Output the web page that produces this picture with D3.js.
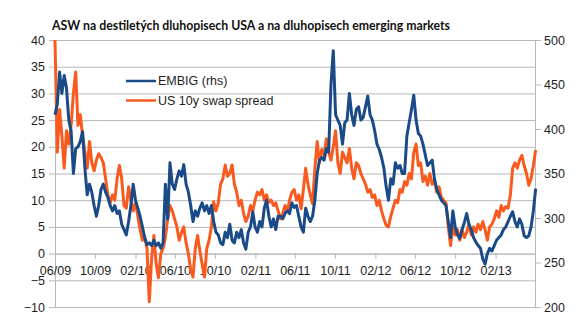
<!DOCTYPE html>
<html>
<head>
<meta charset="utf-8">
<script src="https://cdn.jsdelivr.net/npm/d3@7"></script>
<style>
body{margin:0;background:#fff;}
svg{display:block;font-family:"Liberation Sans",Arial,sans-serif;}
</style>
</head>
<body>
<script>
var title="ASW na destiletých dluhopisech USA a na dluhopisech emerging markets";
var seriesNames=["EMBIG (rhs)","US 10y swap spread"];
var startDate="2009-06-01";
var stepDays=7; // weekly readings
var endDate="2013-06-01";

// EMBIG spread, right axis (bp)
var embig=[416,428,464,440,460,446,410,398,350,378,
  380,386,397,356,326,338,329,314,302,314,
  332,338,329,323,314,308,314,305,308,293,
  287,281,296,314,338,320,311,302,290,278,
  270,272,269,275,269,272,266,272,338,299,
  362,338,332,344,353,347,360,338,329,314,
  296,308,302,311,317,308,314,305,314,296,
  284,281,272,270,284,278,293,275,272,284,
  278,287,272,265,284,290,307,290,284,296,
  290,311,320,302,290,299,287,302,302,299,
  305,308,305,317,312,314,302,290,284,311,
  302,296,302,320,350,365,368,365,378,374,
  450,488,416,410,404,383,407,410,440,416,
  404,422,425,410,413,425,437,416,410,398,
  383,377,368,356,335,320,344,338,362,356,
  359,350,350,392,407,422,438,410,395,392,
  383,371,359,362,365,344,332,326,320,317,
  314,296,278,308,290,281,277,287,295,305,
  293,287,278,273,269,266,254,248,260,266,
  263,269,275,278,281,287,290,296,302,307,
  296,290,299,293,280,278,280,290,308,333];

// US 10y swap spread, left axis (bp)
var swapSpread=[40,19,27,22,16,23,20.5,24,30,34,
  24,26,22,19,16,21,17,15.5,17.5,18.7,
  18,17,14,11,9.5,11,10,14,16.5,14,
  9,8.5,12.5,10,8,9.5,7,4.5,2.5,3,
  1,-9,-1,3.4,-2,-4.5,0,1,3,6.5,
  9,8,6.5,5,2.5,4,5,2,0,-3,
  -4.4,1,3.4,0.5,-2,-4.4,1,2.5,5,9.7,
  8,9.5,13,14,16.6,14.5,15,16.6,13,11.5,
  9,10,7.5,6,7,9,8,10,11.5,11,
  12,10,11,9.6,10,9,9.5,8,6.5,7.5,
  9,8,10,11.5,12,10,11,8.4,12,16,
  13,11,9.3,16,21,17,19.5,18.5,21.5,19,
  17.5,20,23,17,15,19,18,17,19.7,16,
  14,17,16.5,15,14,13,11.5,12,10.5,11,
  9,10,8,6.5,5.3,5,7,8.5,10,9.5,
  12,11.5,13.5,12.8,15,14,19,20.5,16.5,17,
  13.5,14.5,12.8,15,13,13.8,11.5,12.5,10.5,10,
  9.5,5,1.5,5,3.5,4.5,2.5,4.5,3,4,
  5.5,3.5,5,4,5.5,4.5,6,4.5,2.5,5,
  5.5,6.5,8,6.8,9,8,8.8,8.5,11,16,
  17,16,17.5,18.4,16.5,15,12.8,14,16.5,19.4];

var leftTicks=[-10,-5,0,5,10,15,20,25,30,35,40];
var rightTicks=[200,250,300,350,400,450,500];
var xTickLabels=["06/09","10/09","02/10","06/10","10/10","02/11","06/11","10/11","02/12","06/12","10/12","02/13"];

var width=578;
var height=334;
var padding={top:40, right:43, bottom:27, left:55};
var plotW=width-padding.left-padding.right;
var gridColor="#b8b8b8";
var textColor="#1e1e1e";

var parseDay=d3.timeParse("%Y-%m-%d");
var parseLabel=d3.timeParse("%m/%y");
var t0=parseDay(startDate);

var x=d3.scaleTime()
    .domain([t0,parseDay(endDate)])
    .range([padding.left,width-padding.right]);
var yL=d3.scaleLinear()
    .domain([-10,40])
    .range([height-padding.bottom,padding.top]);
var yR=d3.scaleLinear()
    .domain([200,500])
    .range([height-padding.bottom,padding.top]);

var svg=d3.select("body")
    .append("svg")
    .attr("width",width)
    .attr("height",height);

// horizontal grid
svg.append("g")
    .attr("transform","translate("+padding.left+",0)")
    .call(d3.axisLeft(yL).tickValues(leftTicks).tickSize(-plotW).tickFormat(""))
    .call(function(g){
        g.select(".domain").remove();
        g.selectAll("line").attr("stroke",gridColor);
    });

// left axis
svg.append("g")
    .attr("transform","translate("+padding.left+",0)")
    .call(d3.axisLeft(yL).tickValues(leftTicks).tickSize(6).tickSizeOuter(0).tickPadding(4))
    .call(function(g){
        g.select(".domain").attr("stroke",gridColor);
        g.selectAll("line").attr("stroke",gridColor);
        g.selectAll("text").attr("fill",textColor).attr("font-size","12.5px")
            .attr("font-family","'Liberation Sans',Arial,sans-serif");
    });

// right axis
svg.append("g")
    .attr("transform","translate("+(width-padding.right)+",0)")
    .call(d3.axisRight(yR).tickValues(rightTicks).tickSize(6).tickSizeOuter(0).tickPadding(3))
    .call(function(g){
        g.select(".domain").attr("stroke",gridColor);
        g.selectAll("line").attr("stroke",gridColor);
        g.selectAll("text").attr("fill",textColor).attr("font-size","12.5px")
            .attr("font-family","'Liberation Sans',Arial,sans-serif");
    });

// category (date) axis crossing at 0
svg.append("g")
    .attr("transform","translate(0,"+yL(0)+")")
    .call(d3.axisBottom(x)
        .tickValues(xTickLabels.map(function(s){return parseLabel(s);}))
        .tickFormat(d3.timeFormat("%m/%y"))
        .tickSize(5).tickSizeOuter(0).tickPadding(8))
    .call(function(g){
        g.select(".domain").attr("stroke",gridColor);
        g.selectAll("line").attr("stroke",gridColor);
        g.selectAll("text").attr("fill",textColor).attr("font-size","12.5px")
            .attr("font-family","'Liberation Sans',Arial,sans-serif");
    });

function toPoints(arr){
    return arr.map(function(v,i){
        return {date:d3.timeDay.offset(t0,i*stepDays), v:v};
    });
}

var lineL=d3.line()
    .x(function(d){return x(d.date);})
    .y(function(d){return yL(d.v);});
var lineR=d3.line()
    .x(function(d){return x(d.date);})
    .y(function(d){return yR(d.v);});

var colors=["#1a4a88","#fb5a1f"];

svg.append("path")
    .datum(toPoints(swapSpread))
    .attr("fill","none")
    .attr("stroke",colors[1])
    .attr("stroke-width",3)
    .attr("stroke-linejoin","round")
    .attr("d",lineL);

svg.append("path")
    .datum(toPoints(embig))
    .attr("fill","none")
    .attr("stroke",colors[0])
    .attr("stroke-width",3)
    .attr("stroke-linejoin","round")
    .attr("d",lineR);

// legend
var legend=svg.selectAll(".legend")
    .data(seriesNames)
    .enter()
    .append("g")
    .attr("class","legend")
    .attr("transform",function(d,i){return "translate(126,"+(81+i*19.5)+")";});
legend.append("line")
    .attr("x1",0).attr("x2",30)
    .attr("stroke",function(d,i){return colors[i];})
    .attr("stroke-width",2.5);
legend.append("text")
    .attr("x",32)
    .attr("dy","0.35em")
    .attr("fill",textColor)
    .attr("font-size","12.5px")
    .text(function(d){return d;});

// title
svg.append("text")
    .attr("x",52)
    .attr("y",29.5)
    .attr("font-family","Lato,'Open Sans',sans-serif")
    .attr("font-weight","bold")
    .attr("font-size","14px")
    .attr("fill","#111")
    .attr("textLength",398)
    .attr("lengthAdjust","spacingAndGlyphs")
    .text(title);
</script>
</body>
</html>
